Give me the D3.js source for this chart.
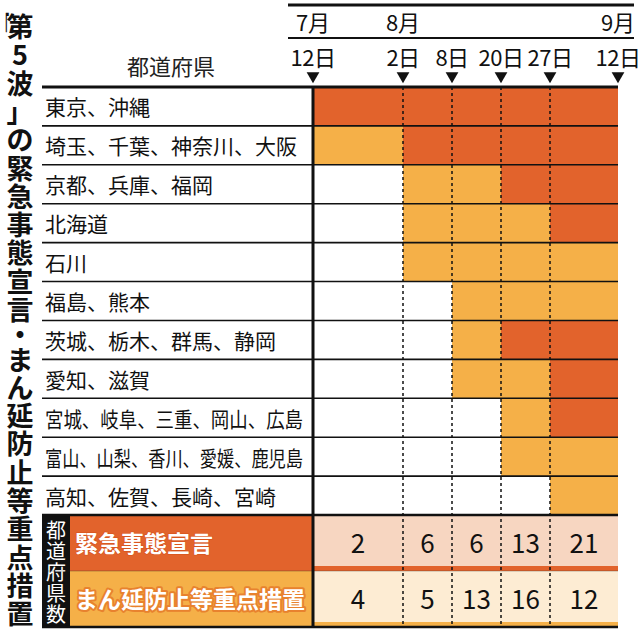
<!DOCTYPE html>
<html><head><meta charset="utf-8">
<script src="https://cdn.jsdelivr.net/npm/d3@7"></script>
<style>
body{margin:0;background:#fff}
svg{display:block}
text{font-family:'Noto Sans CJK JP','Noto Sans',sans-serif}
</style>
</head><body>
<svg id="c" width="640" height="632"></svg>
<script>
// ---- data ----
const title = "「第5波」の緊急事態宣言・まん延防止等重点措置";
const headerLabel = "都道府県";
const sideLabel = "都道府県数";
const regions = ["東京、沖縄","埼玉、千葉、神奈川、大阪","京都、兵庫、福岡","北海道","石川","福島、熊本","茨城、栃木、群馬、静岡","愛知、滋賀","宮城、岐阜、三重、岡山、広島","富山、山梨、香川、愛媛、鹿児島","高知、佐賀、長崎、宮崎"];
const tickDates = ["2021-07-12","2021-08-02","2021-08-08","2021-08-20","2021-08-27","2021-09-12"];
const dayLabels = ["12日","2日","8日","20日","27日","12日"];
const monthLabels = ["7月","8月","9月"];
const monthTickIndex = [0,1,5];
// 0 = none, 1 = まん延防止等重点措置, 2 = 緊急事態宣言 ; one value per period
const status = [
  [2,2,2,2,2],
  [1,2,2,2,2],
  [0,1,1,2,2],
  [0,1,1,1,2],
  [0,1,1,1,1],
  [0,0,1,1,1],
  [0,0,1,2,2],
  [0,0,1,1,2],
  [0,0,0,1,2],
  [0,0,0,1,1],
  [0,0,0,0,1]
];
const countLabels = ["緊急事態宣言","まん延防止等重点措置"];
const emergencyCounts = [2,6,6,13,21];
const priorityCounts = [4,5,13,16,12];

// ---- style ----
const DARK = "#e2632c", LIGHT = "#f5b048", PEACH = "#f7d6c1", CREAM = "#fdecd3";

const svg = d3.select("#c");
const dates = tickDates.map(d => new Date(d));
const x = d3.scaleTime().domain(dates).range([313,403,452,501,550,618]);
const y = d3.scaleBand().domain(regions).range([87,515]);
const yb = d3.scaleBand().domain(countLabels).range([515,627]);
const left = 42, right = x(dates[dates.length-1]);

// cells
const cells = [];
status.forEach((row,r) => row.forEach((s,p) => { if (s) cells.push({r,p,s}); }));
svg.append("g").selectAll("rect").data(cells).join("rect")
  .attr("x", d => x(dates[d.p]))
  .attr("width", d => x(dates[d.p+1]) - x(dates[d.p]))
  .attr("y", d => y(regions[d.r]))
  .attr("height", y.bandwidth())
  .attr("fill", d => d.s === 2 ? DARK : LIGHT);

// bottom table
const bt = svg.append("g");
const rowFill = [PEACH, CREAM], rowStripe = [DARK, LIGHT];
countLabels.forEach((lab,i) => {
  const y0 = yb(lab), h = yb.bandwidth();
  bt.append("rect").attr("x",70).attr("y",y0).attr("width",x(dates[0])-70).attr("height",h).attr("fill",rowStripe[i]);
  bt.append("rect").attr("x",x(dates[0])).attr("y",y0).attr("width",right-x(dates[0])).attr("height",h-5).attr("fill",rowFill[i]);
  bt.append("rect").attr("x",x(dates[0])).attr("y",y0+h-5).attr("width",right-x(dates[0])).attr("height",5).attr("fill",rowStripe[i]);
  bt.append("text").attr("x",75).attr("y",y0+h/2-1).attr("dominant-baseline","central")
    .attr("font-size",23).attr("font-weight",700).attr("fill","#fff")
    .attr("stroke", i===0 ? "#d9561f" : "#e8822e").attr("stroke-width", i===0 ? 1.5 : 4)
    .attr("paint-order","stroke").attr("stroke-linejoin","round")
    .text(lab);
  const vals = i===0 ? emergencyCounts : priorityCounts;
  bt.append("g").selectAll("text").data(vals).join("text")
    .attr("x",(d,p) => (x(dates[p])+x(dates[p+1]))/2)
    .attr("y", y0+h/2-2).attr("dominant-baseline","central").attr("text-anchor","middle")
    .attr("font-size",26).attr("fill","#111").text(d => d);
});
// black side box
bt.append("rect").attr("x",left).attr("y",yb.range()[0]).attr("width",70-left).attr("height",yb.range()[1]-yb.range()[0]).attr("fill","#111");
const sideChars = Array.from(sideLabel);
const sideStep = 21;
const sideStart = (yb.range()[0]+yb.range()[1])/2 - sideStep*(sideChars.length-1)/2;
const sideText = bt.append("text").attr("text-anchor","middle").attr("dominant-baseline","central")
  .attr("font-size",20).attr("fill","#fff");
sideText.selectAll("tspan").data(sideChars).join("tspan")
  .attr("x",(left+70)/2).attr("y",(d,i)=>sideStart+i*sideStep).text(d=>d);

// row lines
svg.append("g").selectAll("line").data(regions.slice(1)).join("line")
  .attr("x1",left).attr("x2",right).attr("y1",d=>y(d)).attr("y2",d=>y(d))
  .attr("stroke","#111").attr("stroke-width",1.6);
svg.append("line").attr("x1",left).attr("x2",right).attr("y1",87).attr("y2",87).attr("stroke","#111").attr("stroke-width",3);
svg.append("line").attr("x1",left).attr("x2",right).attr("y1",515).attr("y2",515).attr("stroke","#111").attr("stroke-width",2.5);
svg.append("line").attr("x1",left).attr("x2",right).attr("y1",627).attr("y2",627).attr("stroke","#111").attr("stroke-width",2.5);
svg.append("line").attr("x1",left).attr("x2",right).attr("y1",yb(countLabels[1])).attr("y2",yb(countLabels[1])).attr("stroke","#222").attr("stroke-width",0.6).attr("opacity",0.5);

// dashed period lines
svg.append("g").selectAll("line").data(dates.slice(1,-1)).join("line")
  .attr("x1",d=>x(d)).attr("x2",d=>x(d)).attr("y1",87).attr("y2",627)
  .attr("stroke","#111").attr("stroke-width",1.5).attr("stroke-dasharray","3,3");
// main vertical line
svg.append("line").attr("x1",x(dates[0])).attr("x2",x(dates[0])).attr("y1",86).attr("y2",628)
  .attr("stroke","#111").attr("stroke-width",3);

// region names
const names = svg.append("g").selectAll("text").data(regions).join("text")
  .attr("x",45).attr("y",d=>y(d)+y.bandwidth()/2).attr("dominant-baseline","central")
  .attr("font-size",21).attr("fill","#111").text(d=>d);
names.each(function(){
  const w = this.getComputedTextLength();
  const maxW = 258;
  if (w > maxW) d3.select(this).attr("textLength",maxW).attr("lengthAdjust","spacingAndGlyphs");
});

// header
svg.append("text").attr("x",171).attr("y",65).attr("dominant-baseline","central").attr("text-anchor","middle")
  .attr("font-size",22).attr("fill","#222").text(headerLabel);
svg.append("line").attr("x1",288).attr("x2",634).attr("y1",5).attr("y2",5).attr("stroke","#111").attr("stroke-width",3);
svg.append("line").attr("x1",288).attr("x2",634).attr("y1",38).attr("y2",38).attr("stroke","#111").attr("stroke-width",1.8);
svg.append("g").selectAll("text").data(monthLabels).join("text")
  .attr("x",(d,i)=>x(dates[monthTickIndex[i]])).attr("y",31).attr("text-anchor","middle")
  .attr("font-size",22).attr("fill","#111").text(d=>d);
svg.append("g").selectAll("text").data(dayLabels).join("text")
  .attr("x",(d,i)=>x(dates[i])).attr("y",66).attr("text-anchor","middle")
  .attr("font-size",22).attr("letter-spacing",-0.5).attr("fill","#111").text(d=>d);
svg.append("g").selectAll("path").data(dates).join("path")
  .attr("d", d3.symbol(d3.symbolTriangle, 70)())
  .attr("transform", d=>`translate(${x(d)},76) rotate(180)`)
  .attr("fill","#111");

// vertical title (one text, one tspan per character; opening bracket set beside the first character)
const tchars = Array.from(title);
const pitch = 28.3;
let cy = 25, prevAdv = null;
const tpos = [];
let openBracket = null;
tchars.forEach(c => {
  if (c === "「") { openBracket = c; return; }
  const adv = c === "・" ? 0.75 : 1;
  if (prevAdv !== null) cy += pitch*(adv + prevAdv)/2;
  prevAdv = adv;
  tpos.push({c, y:cy});
});
const tt = svg.append("text").attr("text-anchor","middle").attr("dominant-baseline","central")
  .attr("font-size",27).attr("font-weight",700).attr("fill","#111");
tt.selectAll("tspan").data(tpos).join("tspan").attr("x",20).attr("y",d=>d.y).text(d=>d.c);
if (openBracket) {
  svg.append("text").attr("transform","translate(0,38) scale(0.3,1)")
    .attr("font-size",30).attr("font-weight",700).attr("fill","#111").text(openBracket);
}
</script>
</body></html>
